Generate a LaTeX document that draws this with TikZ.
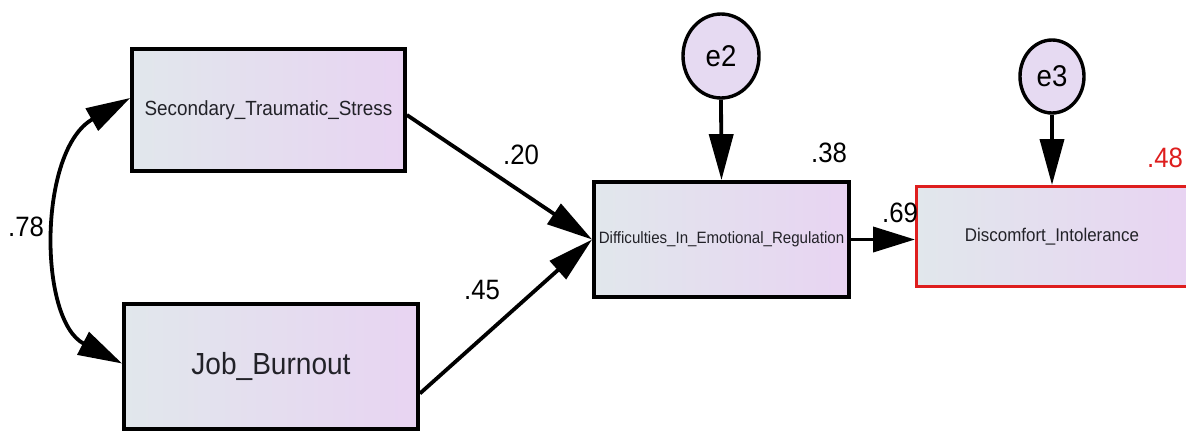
\documentclass[tikz,border=0pt]{standalone}
\usepackage{fontspec}
\setmainfont[FakeStretch=0.92]{Liberation Sans}
\usetikzlibrary{arrows.meta,shapes.geometric}

\definecolor{boxleft}{RGB}{225,231,236}
\definecolor{boxright}{RGB}{232,212,242}
\definecolor{errfill}{RGB}{230,218,242}
\definecolor{hired}{RGB}{222,30,30}
\definecolor{txt}{RGB}{34,34,40}

\begin{document}
\begin{tikzpicture}[x=1pt,y=-1pt,
  var/.style={draw=black, line width=3.8pt, rectangle, left color=boxleft,
    right color=boxright, text=txt, inner sep=0pt},
  err/.style={draw=black, line width=3.4pt, ellipse, fill=errfill,
    inner sep=0pt, font=\fontsize{30}{32}\selectfont},
  regpath/.style={line width=3.8pt, -{Triangle[length=46pt,width=24pt]}},
  coef/.style={font=\fontsize{28}{30}\selectfont, inner sep=0pt}
]
\fill[white] (0,0) rectangle (1186,432);
\useasboundingbox (0,0) rectangle (1186,432);

% observed variables
\node[var, minimum width=273pt, minimum height=122pt,
  font=\fontsize{20.5}{22}\selectfont] (sts) at (268.5,110) {Secondary\_Traumatic\_Stress};
\node[var, minimum width=294pt, minimum height=125pt,
  font=\fontsize{30.5}{32}\selectfont] (jb) at (271,366.5) {Job\_Burnout};
\node[var, minimum width=255pt, minimum height=115pt,
  font=\fontsize{16.4}{18}\selectfont] (der) at (721.5,239.5) {Difficulties\_In\_Emotional\_Regulation};
\node[var, draw=hired, line width=3pt, minimum width=271pt, minimum height=100pt,
  font=\fontsize{18.4}{20}\selectfont] (di) at (1052,236.5) {Discomfort\_Intolerance};

% error terms
\node[err, minimum width=76pt, minimum height=84pt] (e2) at (721,56) {e2};
\node[err, minimum width=64pt, minimum height=73pt] (e3) at (1052,76.5) {e3};

% regression paths
\draw[regpath] ([yshift=-5pt]sts.east) -- (der.west);
\draw[regpath] ([yshift=-27pt]jb.east) -- (der.west);
\draw[regpath] (e2.south) -- (der.north);
\draw[regpath] (e3.south) -- (di.north);
\draw[line width=3.8pt, -{Triangle[length=42pt,width=25pt]}] (der.east) -- (der.east -| di.west);

% covariance
\draw[line width=3.8pt, {Triangle[length=44pt,width=25pt]}-{Triangle[length=44pt,width=25pt]}]
  ([yshift=12pt]sts.west) .. controls (38,150) and (38,320) .. ([yshift=3pt]jb.west);

% coefficients
\node[coef] (r78) at (26,227) {.78};
\node[coef] (b20) at (521,155) {.20};
\node[coef] (b45) at (482,290) {.45};
\node[coef] (r38) at (829,153) {.38};
\node[coef] (b69) at (900,213) {.69};
\node[coef, text=hired] (r48) at (1165,158) {.48};
\end{tikzpicture}
\end{document}
